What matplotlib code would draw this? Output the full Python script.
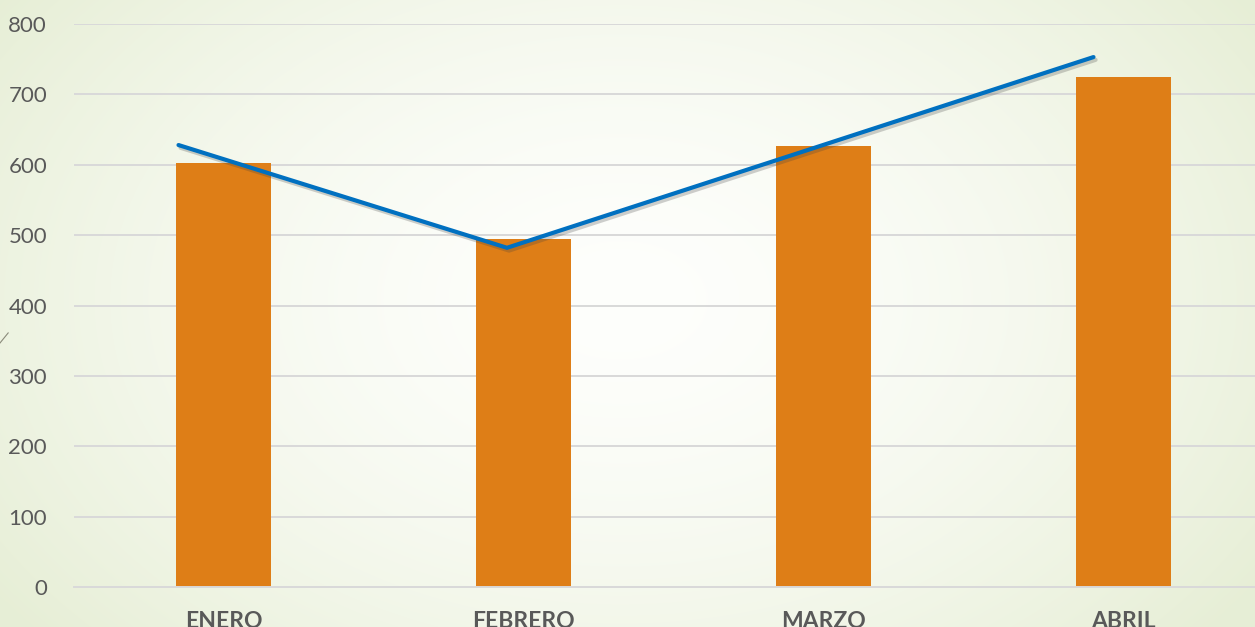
import numpy as np
import matplotlib
matplotlib.use("Agg")
import matplotlib.pyplot as plt
import matplotlib.patheffects as pe

# data
meses = ["ENERO", "FEBRERO", "MARZO", "ABRIL"]
ventas = [602, 495, 627, 725]
# overlaid trend line (drawn shape, positions in category units)
linea_x = [-0.15, 0.945, 2.9]
linea_y = [628, 482, 753]
y_ticks = [0, 100, 200, 300, 400, 500, 600, 700, 800]

fig = plt.figure(figsize=(12.55, 6.27), dpi=100)

# radial background gradient
bg = fig.add_axes([0, 0, 1, 1])
h, w = 627, 1255
yy, xx = np.mgrid[0:h, 0:w]
r = np.sqrt(((xx - 620) / 760.0) ** 2 + ((yy - 300) / 520.0) ** 2)
r = np.clip(r, 0, 1) ** 1.6
c0 = np.array([0.995, 0.998, 0.988])
c1 = np.array([0.905, 0.935, 0.840])
img = c0[None, None, :] * (1 - r[..., None]) + c1[None, None, :] * r[..., None]
bg.imshow(img, extent=[0, 1, 0, 1], aspect="auto", origin="upper")
bg.plot([0.0, 0.0065], [0.453, 0.469], color="#8a8a7a", lw=0.8)
bg.set_xlim(0, 1)
bg.set_ylim(0, 1)
bg.axis("off")

ax = fig.add_axes([73.5 / 1255, 40 / 627, 1200 / 1255, 563 / 627])
ax.patch.set_alpha(0)

x = np.arange(len(meses))
ax.bar(x, ventas, width=0.317, color="#DE7E17", zorder=2)
ax.plot(linea_x, linea_y, color="#0070C0", lw=3.0, solid_capstyle="round",
        solid_joinstyle="miter", zorder=3,
        path_effects=[pe.SimpleLineShadow(offset=(1.5, -2), alpha=0.25, shadow_color="#404040"),
                      pe.Normal()])

ax.set_xlim(-0.5, 3.5)
ax.set_ylim(0, 800)
ax.set_yticks(y_ticks)
ax.set_xticks(x)
ax.set_xticklabels(meses, fontsize=16.5, fontweight="bold", color="#595959", family="Lato")
ax.tick_params(axis="y", labelsize=16, labelcolor="#595959", length=0, pad=19)
ax.tick_params(axis="x", length=0, pad=17)
for lab in ax.get_yticklabels():
    lab.set_family("Lato")
ax.grid(axis="y", color="#D9D9D9", lw=1.4, zorder=0)
ax.set_axisbelow(True)
for s in ["top", "right", "left"]:
    ax.spines[s].set_visible(False)
ax.spines["bottom"].set_color("#D9D9D9")
ax.spines["bottom"].set_linewidth(1.4)

fig.savefig("out.png", dpi=100)
